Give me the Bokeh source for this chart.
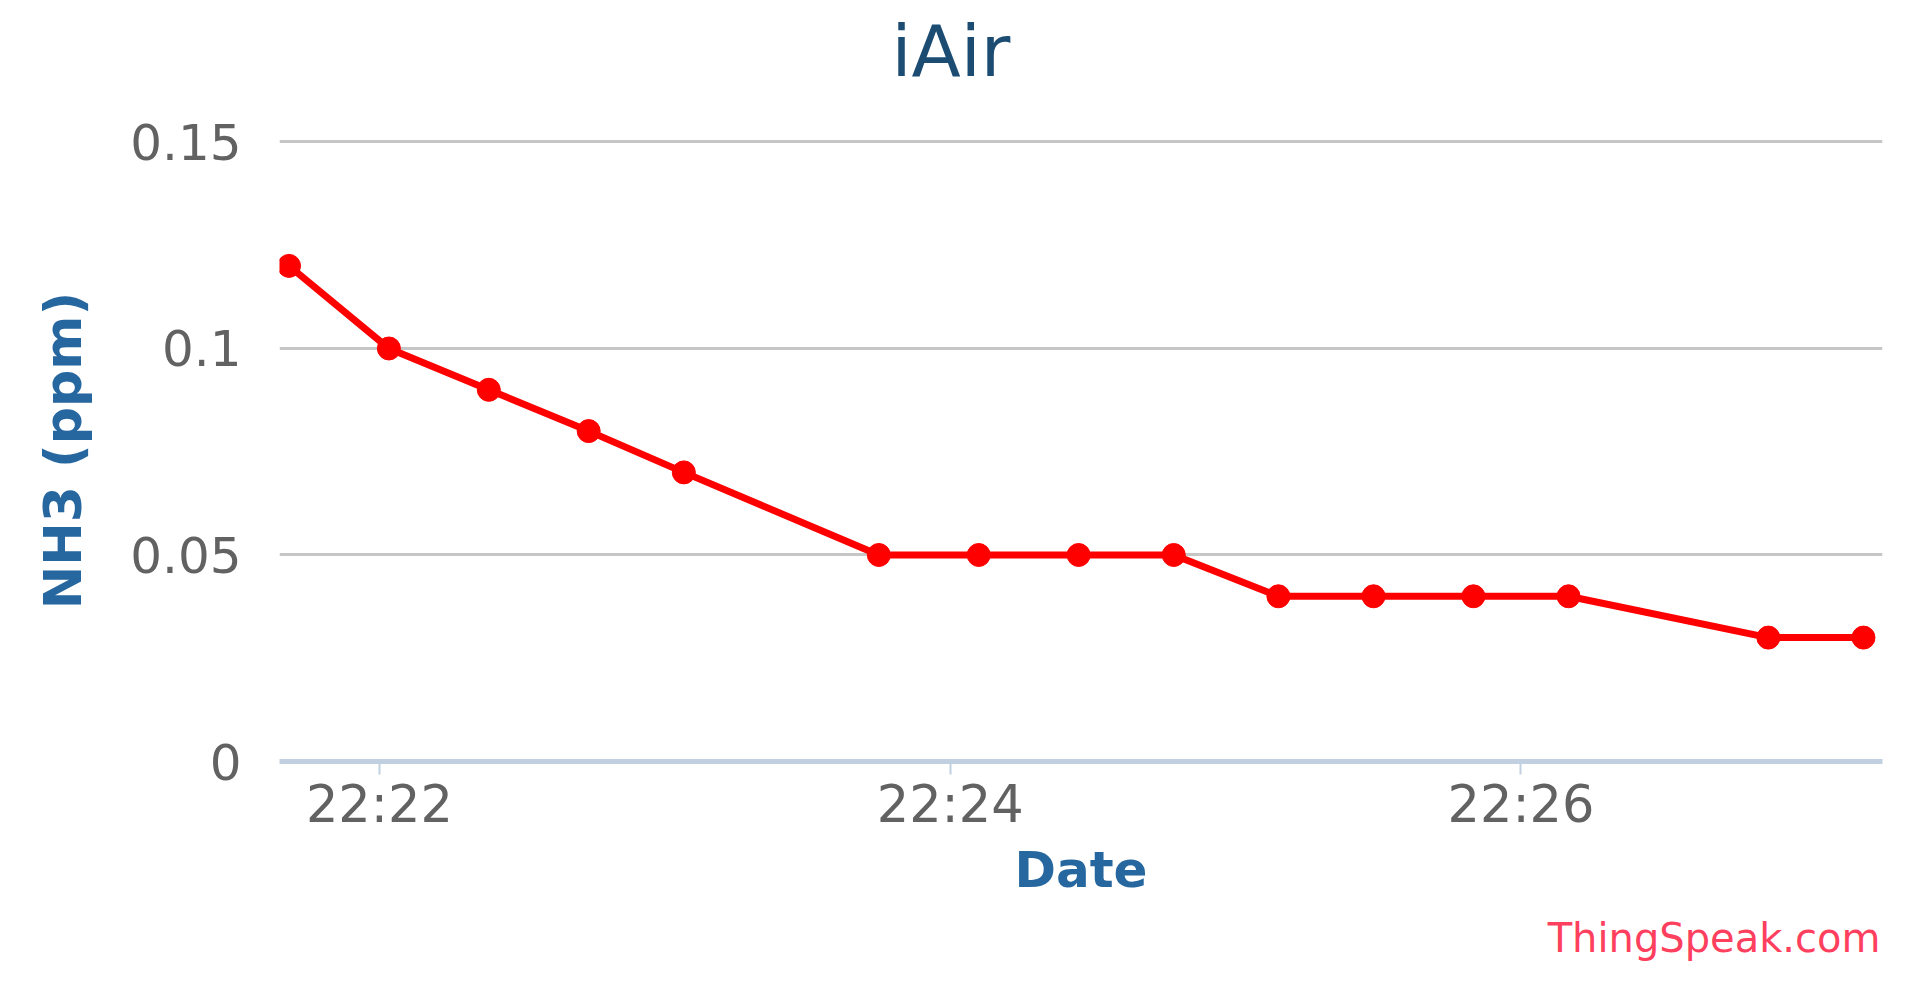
from datetime import datetime
from bokeh.plotting import figure
from bokeh.models import FixedTicker, DatetimeTickFormatter, Range1d, Title
from bokeh.embed import file_html
from bokeh.resources import INLINE

# ---- data ----
times = ["22:21:41", "22:22:02", "22:22:23", "22:22:44", "22:23:04",
         "22:23:45", "22:24:06", "22:24:27", "22:24:47", "22:25:09",
         "22:25:29", "22:25:50", "22:26:10", "22:26:52", "22:27:12"]
nh3 = [0.12, 0.10, 0.09, 0.08, 0.07,
       0.05, 0.05, 0.05, 0.05, 0.04,
       0.04, 0.04, 0.04, 0.03, 0.03]
x_range_limits = ["22:21:39", "22:27:16"]
x_tick_labels = ["22:22", "22:24", "22:26"]
y_ticks = [0, 0.05, 0.1, 0.15]
y_tick_labels = ["0", "0.05", "0.1", "0.15"]
title_text = "iAir"
x_title = "Date"
y_title = "NH3 (ppm)"
credit_text = "ThingSpeak.com"

def ts(s):
    fmt = "%H:%M:%S" if s.count(":") == 2 else "%H:%M"
    t = datetime.strptime(s, fmt)
    return datetime(2014, 1, 1, t.hour, t.minute, t.second)

def ms(dt):
    return (dt - datetime(1970, 1, 1)).total_seconds() * 1000.0

xs = [ts(t) for t in times]

W, H = 1905, 975
LEFT, RIGHT, TOP, BOTTOM = 279, 23, 139, 214
FONT = "DejaVu Sans"
p = figure(width=W, height=H, x_axis_type="datetime",
           output_backend="svg", toolbar_location=None,
           x_range=Range1d(ts(x_range_limits[0]), ts(x_range_limits[1])),
           y_range=Range1d(y_ticks[0], y_ticks[-1] * 1.004),
           min_border_left=LEFT, min_border_right=RIGHT,
           min_border_top=TOP, min_border_bottom=BOTTOM)
p.outline_line_color = None
p.background_fill_color = "white"
p.border_fill_color = "white"
p.title = None

# grid
p.xgrid.grid_line_color = None
p.ygrid.grid_line_color = "#c6c6c6"
p.ygrid.grid_line_width = 3

# y axis
p.yaxis.ticker = FixedTicker(ticks=y_ticks)
p.yaxis.major_label_overrides = {v: l for v, l in zip(y_ticks, y_tick_labels)}
p.yaxis.axis_line_color = None
p.yaxis.major_tick_line_color = None
p.yaxis.minor_tick_line_color = None
p.yaxis.major_tick_out = 0
p.yaxis.major_tick_in = 0
p.yaxis.major_label_standoff = 38
p.yaxis.major_label_text_font = FONT
p.yaxis.major_label_text_font_size = "50px"
p.yaxis.major_label_text_color = "#626262"
p.yaxis.major_label_text_baseline = "hanging"
p.yaxis.axis_label = y_title
p.yaxis.axis_label_text_font = FONT
p.yaxis.axis_label_text_font_size = "52px"
p.yaxis.axis_label_text_font_style = "bold"
p.yaxis.axis_label_text_color = "#26679f"
p.yaxis.axis_label_standoff = 34

# x axis
p.xaxis.ticker = FixedTicker(ticks=[ms(ts(t)) for t in x_tick_labels])
p.xaxis.formatter = DatetimeTickFormatter(minutes="%H:%M", hourmin="%H:%M",
                                          minsec="%H:%M", hours="%H:%M",
                                          seconds="%H:%M")
p.xaxis.axis_line_color = "#c0d0e0"
p.xaxis.axis_line_width = 5
p.xaxis.major_tick_line_color = "#c0d0e0"
p.xaxis.major_tick_line_width = 2
p.xaxis.major_tick_out = 13
p.xaxis.major_tick_in = 0
p.xaxis.minor_tick_line_color = None
p.xaxis.major_label_standoff = 0
p.xaxis.major_label_text_font = FONT
p.xaxis.major_label_text_font_size = "51px"
p.xaxis.major_label_text_color = "#626262"
p.xaxis.axis_label = x_title
p.xaxis.axis_label_text_font = FONT
p.xaxis.axis_label_text_font_size = "50px"
p.xaxis.axis_label_text_font_style = "bold"
p.xaxis.axis_label_text_color = "#26679f"
p.xaxis.axis_label_standoff = 4

# title: a thin spacer next to the frame, then the chart title above it
p.add_layout(Title(text=" ", text_font_size="1px", standoff=44), "above")
p.add_layout(Title(text=title_text, align="left", offset=612,
                   text_font=FONT, text_font_size="72px", text_font_style="normal",
                   text_color="#1d4c72", standoff=0), "above")

# credit below the x axis title
p.add_layout(Title(text=credit_text, align="right", offset=2,
                   text_font=FONT, text_font_size="40px", text_font_style="normal",
                   text_color="#ff3f5e", standoff=22), "below")

# series
p.line(xs, nh3, line_color="#ff0000", line_width=7)
p.scatter(xs, nh3, size=23, fill_color="#ff0000", line_color="#ff0000")

open("out.html", "w").write(file_html(p, INLINE))
